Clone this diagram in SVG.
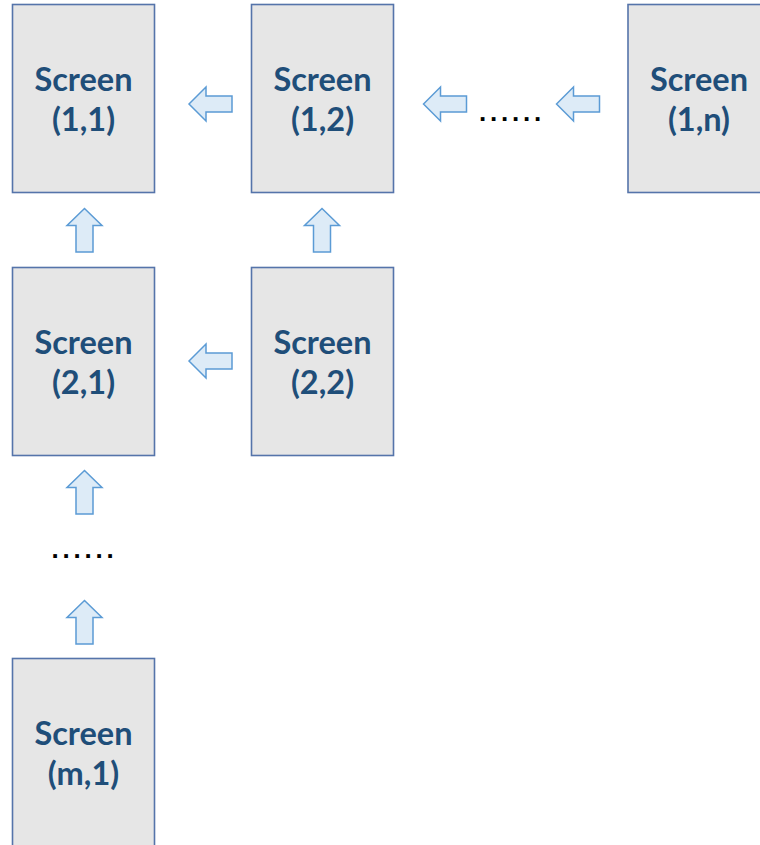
<svg xmlns="http://www.w3.org/2000/svg" xmlns:xlink="http://www.w3.org/1999/xlink" width="760" height="845" viewBox="0 0 760 845">
<style>
.box{fill:#E6E6E6;stroke:#5574AA;stroke-width:1.6}
.lbl{font-family:Lato,"Liberation Sans",sans-serif;font-weight:bold;font-size:32.5px;fill:#1F4E79;text-anchor:middle}
.arr{fill:#DDEBF7;stroke:#5B9BD5;stroke-width:1.5;stroke-linejoin:miter}
.dots{font-family:"Liberation Sans",sans-serif;font-weight:bold;font-size:26px;fill:#000;text-anchor:middle;letter-spacing:3.8px}
</style>
<defs>
<path id="la" d="M0,0 L17,-17 L17,-8 L43,-8 L43,8 L17,8 L17,17 Z"/>
<path id="ua" d="M0,0 L17.5,17 L8.5,17 L8.5,43.5 L-8.5,43.5 L-8.5,17 L-17.5,17 Z"/>
</defs>
<rect width="760" height="845" fill="#fff"/>
<g id="n11"><rect class="box" x="12.5" y="4.5" width="142" height="188"/><text class="lbl" x="83.5" y="91">Screen</text><text class="lbl" x="83.5" y="131">(1,1)</text></g>
<g id="n12"><rect class="box" x="251.5" y="4.5" width="142" height="188"/><text class="lbl" x="322.5" y="91">Screen</text><text class="lbl" x="322.5" y="131">(1,2)</text></g>
<g id="n1n"><rect class="box" x="628" y="4.5" width="142" height="188"/><text class="lbl" x="699" y="91">Screen</text><text class="lbl" x="699" y="131">(1,n)</text></g>
<g id="n21"><rect class="box" x="12.5" y="267.5" width="142" height="188"/><text class="lbl" x="83.5" y="354">Screen</text><text class="lbl" x="83.5" y="394">(2,1)</text></g>
<g id="n22"><rect class="box" x="251.5" y="267.5" width="142" height="188"/><text class="lbl" x="322.5" y="354">Screen</text><text class="lbl" x="322.5" y="394">(2,2)</text></g>
<g id="nm1"><rect class="box" x="12.5" y="658.5" width="142" height="200"/><text class="lbl" x="83.5" y="745">Screen</text><text class="lbl" x="83.5" y="785">(m,1)</text></g>
<g id="connectors">
<use class="arr" xlink:href="#la" transform="translate(189,104)"/>
<use class="arr" xlink:href="#la" transform="translate(423.5,104)"/>
<use class="arr" xlink:href="#la" transform="translate(556.5,104)"/>
<use class="arr" xlink:href="#la" transform="translate(189,361)"/>
<use class="arr" xlink:href="#ua" transform="translate(84.5,208.5)"/>
<use class="arr" xlink:href="#ua" transform="translate(322,208.5)"/>
<use class="arr" xlink:href="#ua" transform="translate(84.5,470.5)"/>
<use class="arr" xlink:href="#ua" transform="translate(84.5,600.5)"/>
</g>
<text class="dots" x="512" y="121">......</text>
<text class="dots" x="84.5" y="558">......</text>
</svg>
